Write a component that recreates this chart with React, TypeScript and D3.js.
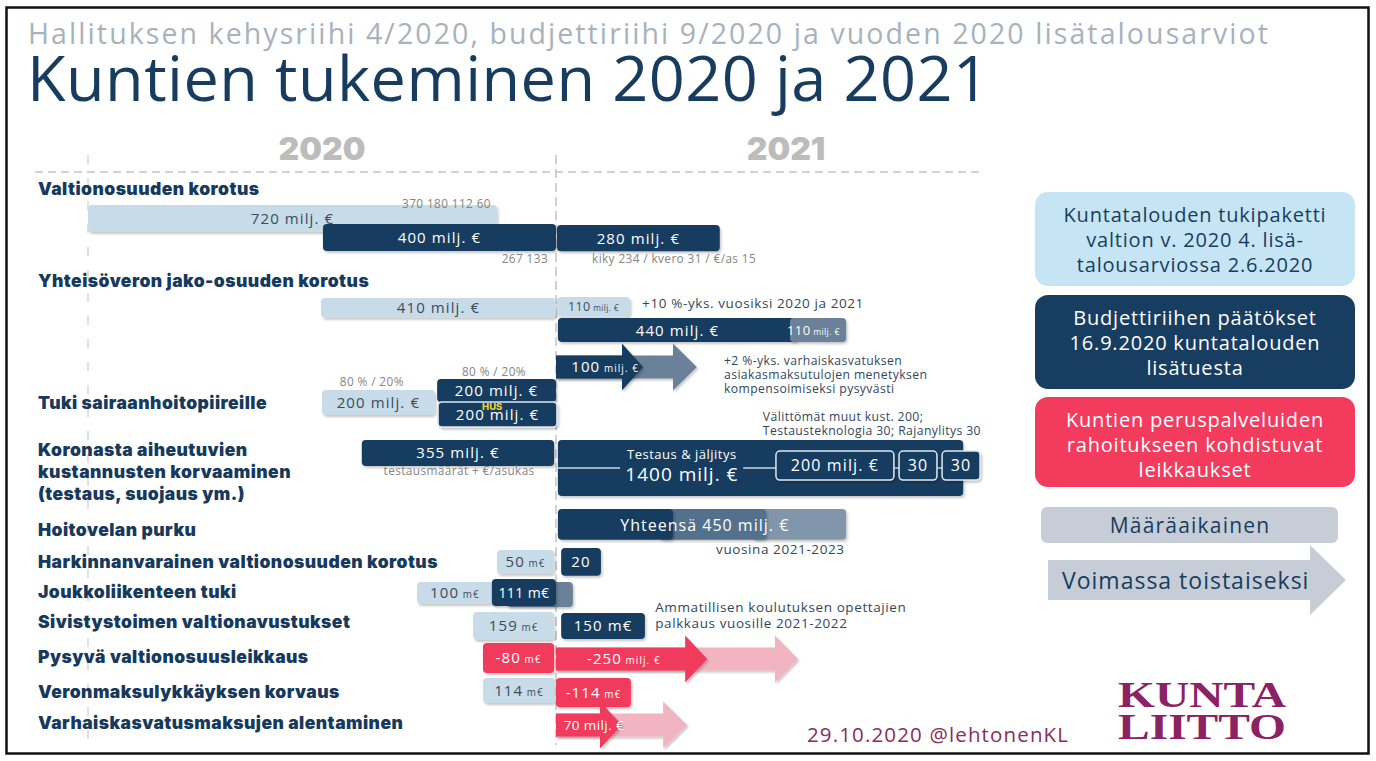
import * as d3 from 'd3';
import { useEffect, useRef } from 'react';

const subtitle = 'Hallituksen kehysriihi 4/2020, budjettiriihi 9/2020 ja vuoden 2020 lisätalousarviot';
const title = 'Kuntien tukeminen 2020 ja 2021';
const years = [2020, 2021];

// row headings (lane = baseline on the lane axis)
const rowLines = [
  ['Valtionosuuden korotus'],
  ['Yhteisöveron jako-osuuden korotus'],
  ['Tuki sairaanhoitopiireille'],
  ['Koronasta aiheutuvien', 'kustannusten korvaaminen', '(testaus, suojaus ym.)'],
  ['Hoitovelan purku'],
  ['Harkinnanvarainen valtionosuuden korotus'],
  ['Joukkoliikenteen tuki'],
  ['Sivistystoimen valtionavustukset'],
  ['Pysyvä valtionosuusleikkaus'],
  ['Veronmaksulykkäyksen korvaus'],
  ['Varhaiskasvatusmaksujen alentaminen'],
];
const rowLanes = [-0.33, 2.73, 6.8, 8.37, 11.03, 12.1, 13.1, 14.1, 15.27, 16.43, 17.47];

// bars on the timeline: from / to in years, lane = top, span in lanes
const bars = [
  { kind: 'light', from: 2020.0, to: 2020.874, lane: 0, span: 0.9, value: '720', unit: 'milj. €' },
  { kind: 'dark', from: 2020.502, to: 2021.0, lane: 0.63, span: 0.9, value: '400', unit: 'milj. €' },
  { kind: 'dark', from: 2021.002, to: 2021.35, lane: 0.67, span: 0.87, value: '280', unit: 'milj. €' },
  { kind: 'light', from: 2020.498, to: 2021.0, lane: 3.1, span: 0.66, value: '410', unit: 'milj. €' },
  { kind: 'light', from: 2021.002, to: 2021.158, lane: 3.07, span: 0.64, value: '110', unit: 'milj. €', fs: 12.5, small: true },
  { kind: 'dark', from: 2021.004, to: 2021.515, lane: 3.77, span: 0.8, value: '440', unit: 'milj. €' },
  { kind: 'slate', from: 2021.5, to: 2021.62, lane: 3.77, span: 0.8, value: '110', unit: 'milj. €', fs: 13, small: true, at: 2021.55 },
  { kind: 'light', from: 2020.5, to: 2020.741, lane: 6.17, span: 0.83, value: '200', unit: 'milj. €' },
  { kind: 'dark', from: 2020.746, to: 2021.0, lane: 5.8, span: 0.77, value: '200', unit: 'milj. €' },
  { kind: 'dark', from: 2020.748, to: 2021.002, lane: 6.57, span: 0.83, value: '200', unit: 'milj. €', edge: true },
  { kind: 'dark', from: 2020.585, to: 2020.996, lane: 7.83, span: 0.87, value: '355', unit: 'milj. €' },
  { kind: 'dark', from: 2021.004, to: 2021.87, lane: 7.83, span: 1.87, value: '', unit: '' },
  { kind: 'dark', from: 2021.47, to: 2021.722, lane: 8.2, span: 0.97, value: '200', unit: 'milj. €', edge: true, fs: 16 },
  { kind: 'dark', from: 2021.733, to: 2021.814, lane: 8.2, span: 0.97, value: '30', unit: '', edge: true, fs: 16 },
  { kind: 'dark', from: 2021.825, to: 2021.906, lane: 8.2, span: 0.97, value: '30', unit: '', edge: true, fs: 16 },
  { kind: 'pale', from: 2021.42, to: 2021.62, lane: 10.13, span: 1.03, value: '', unit: '' },
  { kind: 'mid', from: 2021.22, to: 2021.449, lane: 10.13, span: 1.03, value: '', unit: '' },
  { kind: 'dark', from: 2021.004, to: 2021.25, lane: 10.13, span: 1.03, value: '', unit: '' },
  { kind: 'light', from: 2020.874, to: 2020.996, lane: 11.5, span: 0.8, value: '50', unit: 'm€', small: true },
  { kind: 'dark', from: 2021.011, to: 2021.096, lane: 11.43, span: 0.93, value: '20', unit: '' },
  { kind: 'light', from: 2020.703, to: 2020.88, lane: 12.57, span: 0.73, value: '100', unit: 'm€', small: true, at: 2020.784 },
  { kind: 'slate', from: 2020.895, to: 2021.036, lane: 12.57, span: 0.83, value: '', unit: '' },
  { kind: 'dark', from: 2020.863, to: 2021.0, lane: 12.47, span: 0.9, value: '111', unit: 'm€', fs: 14 },
  { kind: 'light', from: 2020.823, to: 2020.996, lane: 13.57, span: 0.93, value: '159', unit: 'm€', small: true },
  { kind: 'dark', from: 2021.011, to: 2021.19, lane: 13.6, span: 0.87, value: '150', unit: 'm€' },
  { kind: 'red', from: 2020.844, to: 2020.996, lane: 14.6, span: 1.0, value: '-80', unit: 'm€', small: true },
  { kind: 'light', from: 2020.844, to: 2020.998, lane: 15.77, span: 0.83, value: '114', unit: 'm€', small: true },
  { kind: 'red', from: 2021.0, to: 2021.16, lane: 15.77, span: 0.97, value: '-114', unit: 'm€', small: true },
];

// permanent items: arrows (from, shaft end, tip in years; lane = centre)
const arrows = [
  { kind: 'slate', from: 2021.0, shaft: 2021.25, tip: 2021.301, lane: 5.4, value: '', unit: '' },
  { kind: 'dark', from: 2021.0, shaft: 2021.141, tip: 2021.186, lane: 5.4, value: '100', unit: 'milj. €', small: true, at: 2021.105 },
  { kind: 'pink', from: 2021.0, shaft: 2021.468, tip: 2021.517, lane: 15.13, value: '', unit: '' },
  { kind: 'red', from: 2021.0, shaft: 2021.276, tip: 2021.323, lane: 15.13, value: '-250', unit: 'milj. €', small: true, at: 2021.145 },
  { kind: 'pink', from: 2021.0, shaft: 2021.229, tip: 2021.28, lane: 17.33, value: '', unit: '' },
  { kind: 'red', from: 2021.0, shaft: 2021.094, tip: 2021.141, lane: 17.33, value: '70', unit: 'milj. €', fs: 13.5, at: 2021.081 },
];

// notes: x in years, lane = baseline
const notes = [
  { text: '370 180 112 60', at: 2020.671, lane: 0.1, anchor: 'start', tone: 'gray' },
  { text: '267 133', at: 2020.983, lane: 1.93, anchor: 'end', tone: 'gray' },
  { text: 'kiky 234 / kvero 31 / €/as 15', at: 2021.077, lane: 1.93, anchor: 'start', tone: 'gray' },
  { text: '+10 %-yks. vuosiksi 2020 ja 2021', at: 2021.184, lane: 3.43, anchor: 'start', tone: 'ink' },
  { text: '+2 %-yks. varhaiskasvatuksen', at: 2021.359, lane: 5.33, anchor: 'start', tone: 'note' },
  { text: 'asiakasmaksutulojen menetyksen', at: 2021.359, lane: 5.8, anchor: 'start', tone: 'note' },
  { text: 'kompensoimiseksi pysyvästi', at: 2021.359, lane: 6.27, anchor: 'start', tone: 'note' },
  { text: '80 % / 20%', at: 2020.538, lane: 6.03, anchor: 'start', tone: 'gray' },
  { text: '80 % / 20%', at: 2020.799, lane: 5.7, anchor: 'start', tone: 'gray' },
  { text: 'HUS', at: 2020.842, lane: 6.83, anchor: 'start', tone: 'hus' },
  { text: 'Välittömät muut kust. 200;', at: 2021.442, lane: 7.2, anchor: 'start', tone: 'note' },
  { text: 'Testausteknologia 30; Rajanylitys 30', at: 2021.442, lane: 7.67, anchor: 'start', tone: 'note' },
  { text: 'testausmäärät + €/asukas', at: 2020.793, lane: 9.0, anchor: 'middle', tone: 'gray' },
  { text: 'Testaus & jäljitys', at: 2021.269, lane: 8.47, anchor: 'middle', tone: 'white' },
  { text: '1400 milj. €', at: 2021.269, lane: 9.2, anchor: 'middle', tone: 'big' },
  { text: 'Yhteensä 450 milj. €', at: 2021.318, lane: 10.87, anchor: 'middle', tone: 'inbar' },
  { text: 'vuosina 2021-2023', at: 2021.342, lane: 11.63, anchor: 'start', tone: 'ink' },
  { text: 'Ammatillisen koulutuksen opettajien', at: 2021.212, lane: 13.57, anchor: 'start', tone: 'ink' },
  { text: 'palkkaus vuosille 2021-2022', at: 2021.212, lane: 14.1, anchor: 'start', tone: 'ink' },
];

const legendBoxes = [
  { lines: ['Kuntatalouden tukipaketti', 'valtion v. 2020 4. lisä-', 'talousarviossa 2.6.2020'], fill: '#c6e5f4', ink: '#173d60' },
  { lines: ['Budjettiriihen päätökset', '16.9.2020 kuntatalouden', 'lisätuesta'], fill: '#173d60', ink: '#ffffff' },
  { lines: ['Kuntien peruspalveluiden', 'rahoitukseen kohdistuvat', 'leikkaukset'], fill: '#f23b5d', ink: '#ffffff' },
];
const legendTemporary = 'Määräaikainen';
const legendPermanent = 'Voimassa toistaiseksi';
const footer = '29.10.2020  @lehtonenKL';
const logoLines = ['KUNTA', 'LIITTO'];

const colors: Record<string, string> = {
  light: '#c7dbe8', dark: '#173d60', slate: '#6a8199', mid: '#52708d', pale: '#8296ab',
  red: '#f03a5c', pink: '#f3b4c2',
};
const tones: Record<string, { fill: string; size: number; weight?: number; ls?: number }> = {
  gray: { fill: '#858585', size: 11.8, ls: 0.4 },
  ink: { fill: '#34475b', size: 13.5, ls: 0.6 },
  note: { fill: '#34475b', size: 12.2, ls: 0.4 },
  white: { fill: '#ffffff', size: 13, ls: 0.5 },
  big: { fill: '#ffffff', size: 19, ls: 1 },
  inbar: { fill: '#ffffff', size: 16, ls: 1 },
  hus: { fill: '#e6d23a', size: 9.5, weight: 800 },
};

const SANS = "'Open Sans', 'DejaVu Sans', sans-serif";

export default function App() {
  const ref = useRef<SVGSVGElement>(null);

  function draw() {
    const svg = d3.select(ref.current);
    svg.selectAll('*').remove();

    const x = d3.scaleLinear().domain([2020, 2021]).range([88, 556]);
    const y = d3.scaleLinear().domain([0, 1]).range([205, 235]);

    const defs = svg.append('defs');
    defs.append('filter').attr('id', 'sh').attr('x', '-10%').attr('y', '-20%').attr('width', '130%').attr('height', '160%')
      .append('feDropShadow').attr('dx', 1.5).attr('dy', 2).attr('stdDeviation', 1.3)
      .attr('flood-color', '#000').attr('flood-opacity', 0.22);

    svg.append('rect').attr('width', 1376).attr('height', 761).attr('fill', '#fff');
    svg.append('rect').attr('x', 6.5).attr('y', 7.5).attr('width', 1362).attr('height', 746)
      .attr('fill', 'none').attr('stroke', '#111').attr('stroke-width', 2.5);

    // headings
    svg.append('text').attr('x', 28).attr('y', 44).attr('font-family', SANS).attr('font-size', 28.5)
      .attr('fill', '#a7b2bd').attr('textLength', 1240).attr('lengthAdjust', 'spacing').text(subtitle);
    svg.append('text').attr('x', 27).attr('y', 101).attr('font-family', SANS).attr('font-size', 63)
      .attr('fill', '#173c5f').attr('textLength', 962).attr('lengthAdjust', 'spacing').text(title);

    // timeline
    const g = svg.append('g');
    g.selectAll('.yr').data(years).enter().append('text')
      .attr('x', d => x(d + 0.5) - (d === 2021 ? 4 : 0)).attr('y', y(-1.5)).attr('text-anchor', 'middle')
      .attr('font-family', 'Inter, sans-serif').attr('font-weight', 900).attr('font-size', 32)
      .attr('fill', '#bcbcbc').text(d => d);
    g.append('line').attr('x1', 35).attr('x2', x(2021.906)).attr('y1', y(-1.1)).attr('y2', y(-1.1))
      .attr('stroke', '#c4c4c4').attr('stroke-width', 1.6).attr('stroke-dasharray', '8 5');
    g.selectAll('.vl').data(years).enter().append('line')
      .attr('x1', d => x(d)).attr('x2', d => x(d)).attr('y1', y(-1.67)).attr('y2', y(18))
      .attr('stroke', (d, i) => (i === 0 ? '#d6d6d6' : '#c4c4c4')).attr('stroke-width', 1.5)
      .attr('stroke-dasharray', (d, i) => (i === 0 ? '9 14' : '9 5'));

    // row headings
    rowLines.forEach((lines, i) => {
      lines.forEach((line, j) => {
        g.append('text').attr('x', 38).attr('y', y(rowLanes[i]) + j * 22)
          .attr('font-family', 'Inter, sans-serif').attr('font-weight', 900).attr('font-size', 17.5)
          .attr('letter-spacing', 0.45).attr('fill', '#16395c').text(line);
      });
    });

    const putLabel = (cx: number, cy: number, d: any, fill: string) => {
      if (!d.value) return;
      const fs = d.fs || 15;
      const t = g.append('text').attr('x', cx).attr('y', cy + fs * 0.36).attr('text-anchor', 'middle')
        .attr('font-family', SANS).attr('font-size', fs).attr('letter-spacing', fs > 14 ? 1.1 : 0.4).attr('fill', fill);
      t.append('tspan').text(d.value);
      if (d.unit) t.append('tspan').attr('font-size', d.small ? fs * 0.66 : fs).text(' ' + d.unit);
    };

    // 1400 connector lines
    const link = y(8.77);

    bars.forEach(d => {
      const top = y(d.lane);
      const h = y(d.lane + d.span) - top;
      g.append('rect').attr('x', x(d.from)).attr('y', top).attr('width', x(d.to) - x(d.from)).attr('height', h)
        .attr('rx', 4).attr('fill', colors[d.kind]).attr('filter', 'url(#sh)')
        .attr('stroke', d.edge ? '#dfe6ed' : 'none').attr('stroke-width', 1.5);
      if (d.span > 1.5) {
        [[2021.002, 2021.137], [2021.4, 2021.906]].forEach(([a, b]) => {
          g.append('line').attr('x1', x(a)).attr('x2', x(b)).attr('y1', link).attr('y2', link)
            .attr('stroke', '#c9d5e0').attr('stroke-width', 1.5);
        });
      }
      putLabel(x(d.at ?? (d.from + d.to) / 2), top + h / 2, d, d.kind === 'light' ? '#3d4c5c' : '#fff');
    });

    arrows.forEach(d => {
      const cy = y(d.lane);
      const sh = 11.5, hh = 23.5;
      const p = d3.path();
      p.moveTo(x(d.from), cy - sh);
      p.lineTo(x(d.shaft), cy - sh);
      p.lineTo(x(d.shaft), cy - hh);
      p.lineTo(x(d.tip), cy);
      p.lineTo(x(d.shaft), cy + hh);
      p.lineTo(x(d.shaft), cy + sh);
      p.lineTo(x(d.from), cy + sh);
      p.closePath();
      g.append('path').attr('d', p.toString()).attr('fill', colors[d.kind]).attr('filter', 'url(#sh)');
      putLabel(x(d.at ?? d.from), cy, d, '#fff');
    });

    notes.forEach(d => {
      const tn = tones[d.tone];
      g.append('text').attr('x', x(d.at)).attr('y', y(d.lane)).attr('text-anchor', d.anchor)
        .attr('font-family', d.tone === 'hus' ? 'Inter, sans-serif' : SANS)
        .attr('font-weight', tn.weight || 400).attr('font-size', tn.size)
        .attr('letter-spacing', tn.ls || 0).attr('fill', tn.fill).text(d.text);
    });

    // legend
    const lg = svg.append('g');
    const tops = [192, 295, 397];
    legendBoxes.forEach((b, i) => {
      lg.append('rect').attr('x', 1035).attr('y', tops[i]).attr('width', 320).attr('height', i === 2 ? 90 : 94)
        .attr('rx', 13).attr('fill', b.fill);
      b.lines.forEach((line, j) => {
        lg.append('text').attr('x', 1195).attr('y', tops[i] + 30 + j * 25).attr('text-anchor', 'middle')
          .attr('font-family', SANS).attr('font-size', 20).attr('letter-spacing', 0.8).attr('fill', b.ink).text(line);
      });
    });
    lg.append('rect').attr('x', 1041).attr('y', 507).attr('width', 297).attr('height', 36).attr('rx', 6).attr('fill', '#c6cdd6');
    lg.append('text').attr('x', 1190).attr('y', 533).attr('text-anchor', 'middle').attr('font-family', SANS)
      .attr('font-size', 21).attr('letter-spacing', 1.2).attr('fill', '#173d60').text(legendTemporary);
    const la = d3.path();
    la.moveTo(1048, 560); la.lineTo(1310, 560); la.lineTo(1310, 545); la.lineTo(1346, 580);
    la.lineTo(1310, 615); la.lineTo(1310, 600); la.lineTo(1048, 600); la.closePath();
    lg.append('path').attr('d', la.toString()).attr('fill', '#c6cdd6');
    lg.append('text').attr('x', 1062).attr('y', 589).attr('font-family', SANS).attr('font-size', 23)
      .attr('letter-spacing', 1).attr('fill', '#173d60').text(legendPermanent);

    // footer and logo
    svg.append('text').attr('x', 807).attr('y', 742).attr('font-family', SANS).attr('font-size', 20.5)
      .attr('fill', '#8b2b5f').attr('textLength', 261).attr('lengthAdjust', 'spacing').text(footer);
    logoLines.forEach((t, i) => {
      svg.append('text').attr('x', 1118).attr('y', 707 + i * 32).attr('font-family', "'Liberation Serif', serif")
        .attr('font-weight', 700).attr('font-size', 36).attr('fill', '#8b2262')
        .attr('textLength', 168).attr('lengthAdjust', 'spacingAndGlyphs').text(t);
    });
  }

  useEffect(() => {
    draw();
  }, []);

  return (
    <div>
      <svg ref={ref} width={1376} height={761} style={{ position: 'absolute', left: 0, top: 0 }}></svg>
    </div>
  );
}
